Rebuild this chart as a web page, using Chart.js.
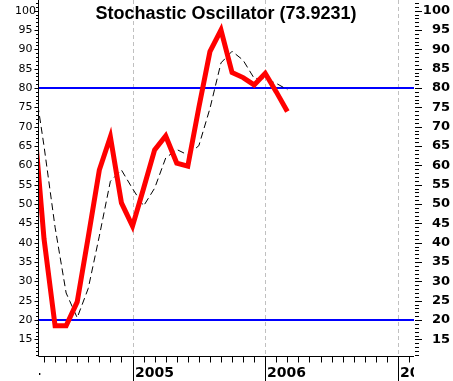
<!DOCTYPE html>
<html lang="en">
<head>
<meta charset="UTF-8">
<title>Stochastic Oscillator</title>
<style>
    body { margin: 0; background: #fff; }
    #wrap { width: 453px; height: 381px; }
</style>
</head>
<body>
<div id="wrap"><canvas id="stoch"></canvas></div>

<script src="https://cdn.jsdelivr.net/npm/chart.js"></script>
<script>
    // monthly samples, Apr 2004 .. Mar 2006
    const months = ['2004-04', '2004-05', '2004-06', '2004-07', '2004-08', '2004-09',
                    '2004-10', '2004-11', '2004-12', '2005-01', '2005-02', '2005-03',
                    '2005-04', '2005-05', '2005-06', '2005-07', '2005-08', '2005-09',
                    '2005-10', '2005-11', '2005-12', '2006-01', '2006-02', '2006-03'];
    // %K (red) and %D (black dashed)
    const kValues = [75, 41, 18.5, 18.5, 24.7, 41.5, 58.8, 67.4, 50.3, 44.3, 54, 64,
                     67.6, 60.6, 59.8, 75, 89.4, 95, 84, 82.7, 80.8, 83.8, 79, 73.9231];
    const dValues = [84, 65, 44, 27, 20.6, 28.2, 41.7, 55.9, 58.8, 54, 49.5, 54.1,
                     61.9, 64.1, 62.7, 65.1, 74.7, 86.5, 89.5, 87.2, 82.5, 82.4, 81.2, 79.6];
    const levels = [80, 20];
    const yearLabels = ['2004', '2005', '2006', '2007'];

    // axis ranges (x in months since Jan 2004)
    const xMin = 3.456, xMax = 37.45;
    const yMin = 10.45, yMax = 102.76;

    function monthIndex(s) {
        const [y, m] = s.split('-').map(Number);
        return (y - 2004) * 12 + (m - 1);
    }
    const points = vals => vals.map((v, i) => ({ x: monthIndex(months[i]), y: v }));

    function intTicks(axis) {
        const t = [];
        for (let v = Math.ceil(yMin); v <= Math.floor(yMax); v++) t.push({ value: v });
        axis.ticks = t;
    }
    const tickLabel = v => (v % 5 === 0 && v >= 15 && v <= 100) ? String(v) : '';
    function noPad(scale) {
        scale.paddingTop = 0; scale.paddingBottom = 0;
        scale.paddingLeft = 0; scale.paddingRight = 0;
    }

    // year grid lines, axis lines, tick marks, year labels and title
    const frame = {
        id: 'frame',
        beforeDatasetsDraw(chart) {
            const { ctx, chartArea: area, scales } = chart;
            ctx.save();
            ctx.strokeStyle = '#c0c0c0';
            ctx.lineWidth = 1;
            ctx.setLineDash([4, 3]);
            yearLabels.forEach((label, i) => {
                const px = Math.round(scales.x.getPixelForValue(i * 12)) + 0.5;
                if (px <= area.left || px >= area.right) return;
                ctx.beginPath();
                ctx.moveTo(px, area.top);
                ctx.lineTo(px, area.bottom);
                ctx.stroke();
            });
            ctx.restore();
        },
        afterDraw(chart) {
            const { ctx, chartArea: area, scales } = chart;
            const left = Math.round(area.left) + 0.5;
            const right = Math.round(area.right);
            const bottom = Math.round(area.bottom) - 0.5;

            ctx.save();
            ctx.strokeStyle = '#000';
            ctx.lineWidth = 1;
            ctx.beginPath();
            ctx.moveTo(left, area.top);
            ctx.lineTo(left, bottom);
            ctx.lineTo(right, bottom);
            for (let v = Math.ceil(yMin); v <= Math.floor(yMax); v++) {
                const py = Math.round(scales.y.getPixelForValue(v)) + 0.5;
                const major = v % 5 === 0;
                ctx.moveTo(left - 0.5, py); ctx.lineTo(left - (major ? 4 : 2.5), py);
                ctx.moveTo(right + 1, py); ctx.lineTo(right + (major ? 8 : 5), py);
            }
            for (let m = Math.ceil(xMin); m <= Math.floor(xMax); m++) {
                const px = Math.round(scales.x.getPixelForValue(m)) + 0.5;
                ctx.moveTo(px, bottom);
                ctx.lineTo(px, m % 12 === 0 ? chart.height : bottom + 6);
            }
            ctx.stroke();

            // year labels sit right of the long tick, cut at the plot edges
            ctx.beginPath();
            ctx.rect(area.left + 1, area.bottom, area.right - area.left - 1, chart.height - area.bottom);
            ctx.clip();
            ctx.fillStyle = '#000';
            ctx.font = 'bold 14px "DejaVu Sans"';
            ctx.textBaseline = 'alphabetic';
            yearLabels.forEach((label, i) => {
                const px = Math.round(scales.x.getPixelForValue(i * 12));
                ctx.fillText(label, px + 2, area.bottom + 20);
            });
            ctx.restore();

            ctx.save();
            ctx.fillStyle = '#000';
            ctx.font = 'bold 18px "Liberation Sans", Arial, sans-serif';
            ctx.textAlign = 'center';
            ctx.fillText('Stochastic Oscillator (' + kValues[kValues.length - 1] + ')',
                         (area.left + area.right) / 2, 19);
            ctx.restore();
        }
    };

    new Chart(document.getElementById('stoch'), {
        type: 'line',
        data: {
            datasets: [
                { label: '%K', data: points(kValues), borderColor: '#ff0000', borderWidth: 5,
                  pointRadius: 0, tension: 0 },
                { label: '%D', data: points(dValues), borderColor: '#000000', borderWidth: 1,
                  borderDash: [7, 4], pointRadius: 0, tension: 0 },
                ...levels.map(l => ({
                    label: String(l),
                    data: [{ x: xMin, y: l }, { x: xMax, y: l }],
                    borderColor: '#0000ff', borderWidth: 2, pointRadius: 0
                }))
            ]
        },
        options: {
            responsive: true,
            maintainAspectRatio: false,
            animation: false,
            events: [],
            layout: { padding: { top: 0, left: 0, right: 3, bottom: 0 } },
            plugins: { legend: { display: false }, tooltip: { enabled: false } },
            scales: {
                x: {
                    type: 'linear', min: xMin, max: xMax,
                    ticks: { display: false },
                    grid: { display: false, drawTicks: false },
                    border: { display: false },
                    afterFit: s => { s.height = 24; noPad(s); }
                },
                y: {
                    position: 'left', min: yMin, max: yMax,
                    afterBuildTicks: intTicks,
                    ticks: { autoSkip: false, callback: tickLabel, color: '#000', padding: 2,
                             crossAlign: 'center', font: { family: 'DejaVu Sans', size: 11 } },
                    grid: { display: false, drawTicks: false },
                    border: { display: false },
                    afterFit: s => { s.width = 38; noPad(s); }
                },
                y2: {
                    position: 'right', min: yMin, max: yMax,
                    afterBuildTicks: intTicks,
                    ticks: { autoSkip: false, callback: tickLabel, color: '#000', padding: 2,
                             crossAlign: 'far', font: { family: 'DejaVu Sans', size: 13, weight: 'bold' } },
                    grid: { display: false, drawTicks: false },
                    border: { display: false },
                    afterFit: s => { s.width = 36; noPad(s); }
                }
            }
        },
        plugins: [frame]
    });
</script>
</body>
</html>
